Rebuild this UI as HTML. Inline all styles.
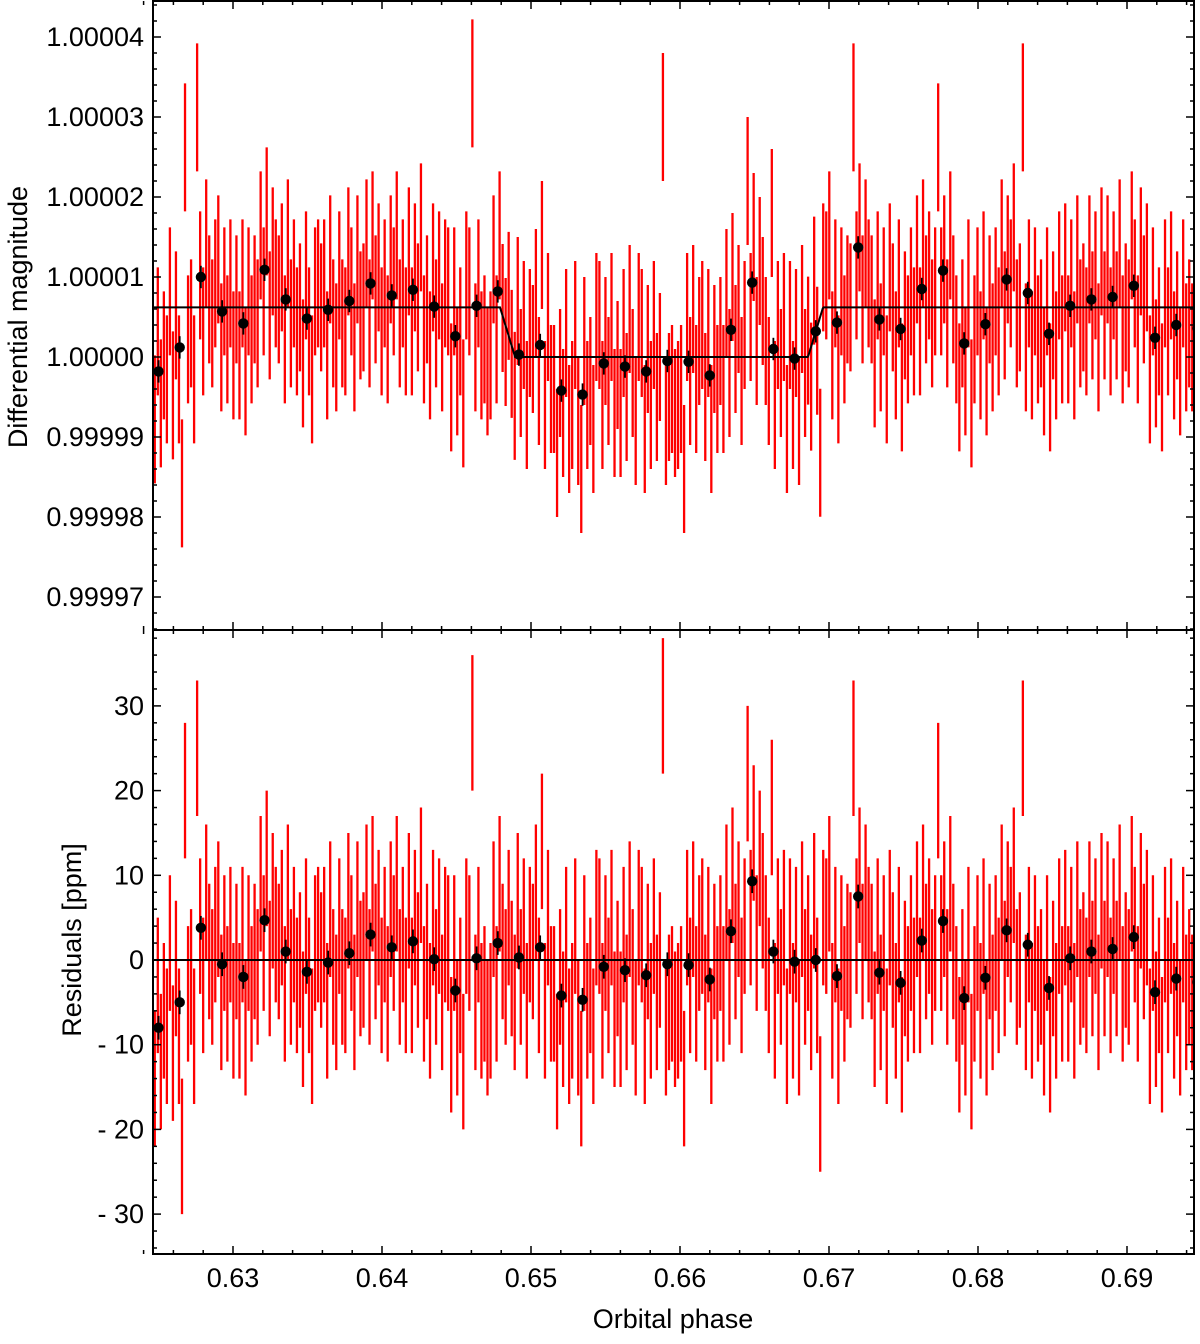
<!DOCTYPE html>
<html><head><meta charset="utf-8"><style>
body{margin:0;background:#fff}
svg text{font-family:"Liberation Sans",Arial,sans-serif;fill:#000}
</style></head><body>
<svg id="c" width="1200" height="1339" viewBox="0 0 1200 1339" xmlns="http://www.w3.org/2000/svg"></svg>
<script>
const residuals=[
-14,-3,-12,-6,-9,2,-11,
-1,-9,-22,20,-4,-2,-9,
25,4,-3,8,1,-2,3,
6,-5,2,-4,3,-6,1,
-6,3,-8,2,-4,1,-2,
9,2,12,-1,7,3,1,
5,-4,8,-2,3,-3,0,
-7,4,-3,-9,2,3,0,
3,-6,6,-2,-5,4,-2,
-3,7,2,-5,6,-1,0,
8,-2,9,1,5,-3,3,
-4,6,2,9,-2,3,-3,
7,-3,5,0,10,-4,1,
-6,5,-2,4,-5,3,2,
-10,2,-8,-3,-12,4,2,
28,-5,3,-6,-4,-8,-6,
6,-4,9,1,-2,5,-1,
-5,7,-2,4,-6,3,1,
8,-3,14,-6,5,-4,-4,
-12,-2,-7,3,-9,-6,4,
-8,-14,2,-6,-3,-9,5,
4,-6,2,-3,5,-7,-1,
-7,3,-5,6,-2,-8,5,
3,-9,1,-6,4,-5,0,
30,-8,-5,-4,-7,-6,-4,
-14,5,-3,6,-4,2,4,
-5,3,-9,1,-4,2,-4,
8,-2,10,1,6,-3,4,
22,5,15,2,12,7,2,
-3,18,-6,4,-2,5,-9,
4,-6,3,-8,6,-2,2,
-5,7,-3,-17,5,4,9,
-6,3,-9,2,-4,1,0,
25,4,10,1,8,3,1,
-7,4,-5,2,-9,5,0,
-6,3,-10,-1,-4,2,-3,
6,-3,8,1,4,-2,2,
20,2,6,-2,9,1,-4,
-10,-2,-8,3,-12,-4,2,
-6,4,-8,1,-5,2,-3,
8,-1,6,3,10,-2,0,
25,-5,3,-6,2,-4,-2,
-8,2,-10,-1,-6,4,-4,
5,-4,3,-6,6,-2,0,
-3,6,-1,4,-5,7,-1,
6,-3,4,-1,8,-4,0,
-2,9,3,-4,7,1,5,
-9,2,-7,-3,-10,3,-3,
4,-6,-1,-8,3,-5,-2,
-5,-1,-3];
const rawStart=0.62475, rawStep=0.000203, rawErr=8;
const binResiduals=[-8,-5,3.8,-0.5,-2,4.7,1,-1.4,-0.3,0.8,3,1.5,2.2,0.1,-3.6,0.2,2,0.3,1.5,-4.2,-4.7,-0.8,-1.2,-1.8,-0.5,-0.6,-2.3,3.4,9.3,1,-0.2,0,-1.9,7.5,-1.5,-2.7,2.3,4.6,-4.5,-2.1,3.5,1.8,-3.3,0.2,1,1.3,2.7,-3.8,-2.2,-2.6];
const binStart=0.6250, binStep=0.001423, binErr=1.4;
const baseline=6.2, depth=6.2, t1=0.64792,t2=0.64893,t3=0.66859,t4=0.66960;
const xTicks=[0.63,0.64,0.65,0.66,0.67,0.68,0.69];
const topTicks=[40,30,20,10,0,-10,-20,-30];
const topTickLabels=["1.00004","1.00003","1.00002","1.00001","1.00000","0.99999","0.99998","0.99997"];
const botTicks=[30,20,10,0,-10,-20,-30];
const botTickLabels=["30","20","10","0","- 10","- 20","- 30"];

const L=153,R=1194,T=1,M=630,B=1254;
const xs=p=>233+(p-0.63)*14900;
const yTop=v=>357-v*8.0;
const yBot=v=>960-v*8.47;
function model(p){
  if(p<t1||p>t4) return baseline;
  if(p<t2) return baseline-depth*(p-t1)/(t2-t1);
  if(p<=t3) return baseline-depth;
  return baseline-depth+depth*(p-t3)/(t4-t3);
}
const svg=document.getElementById('c');
const NS='http://www.w3.org/2000/svg';
function mk(tag,attrs,parent){const e=document.createElementNS(NS,tag);for(const k in attrs)e.setAttribute(k,attrs[k]);(parent||svg).appendChild(e);return e;}
const defs=mk('defs',{});
const cp1=mk('clipPath',{id:'cTop'},defs);mk('rect',{x:L,y:T,width:R-L,height:M-T},cp1);
const cp2=mk('clipPath',{id:'cBot'},defs);mk('rect',{x:L,y:M,width:R-L,height:B-M},cp2);
const gTop=mk('g',{'clip-path':'url(#cTop)'});


const gBot=mk('g',{'clip-path':'url(#cBot)'});


residuals.forEach((r,i)=>{
  const p=rawStart+i*rawStep;const x=xs(p);
  const m=model(p);
  const a=mk('line',{x1:x,x2:x,y1:yTop(m+r-rawErr),y2:yTop(m+r+rawErr),stroke:'#f00','stroke-width':2.3},gTop);
  
  
  const b=mk('line',{x1:x,x2:x,y1:yBot(r-rawErr),y2:yBot(r+rawErr),stroke:'#f00','stroke-width':2.3},gBot);
  
  
});
let d='';for(let i=0;i<=1200;i++){const p=0.6240+i*0.0000595;d+=(i?'L':'M')+xs(p).toFixed(1)+','+yTop(model(p)).toFixed(1);}
const ml=mk('path',{d:d,fill:'none',stroke:'#000','stroke-width':2},gTop);


const zl=mk('line',{x1:L,x2:R,y1:yBot(0),y2:yBot(0),stroke:'#000','stroke-width':2},gBot);


binResiduals.forEach((r,i)=>{
  const p=binStart+i*binStep;const x=xs(p);const m=model(p);
  [[gTop,v=>yTop(m+v)],[gBot,yBot]].forEach(([g,f],k)=>{
    const l=mk('line',{x1:x,x2:x,y1:f(r-binErr),y2:f(r+binErr),stroke:'#000','stroke-width':1.8},g);
    
    
    const c=mk('circle',{cx:x,cy:f(r),r:5.2,fill:'#000'},g);
    
    
  });
});
[[T,M],[M,B]].forEach(([a,b],k)=>{
  const f=mk('rect',{x:L,y:a,width:R-L,height:b-a,fill:'none',stroke:'#000','stroke-width':2});
  
  
  for(let p=0.624;p<=0.6945;p+=0.002){const x=xs(p);const major=Math.abs(p*100-Math.round(p*100))<1e-6;const len=major?8:4;
    mk('line',{x1:x,x2:x,y1:a,y2:a+len,stroke:'#000','stroke-width':1.5});
    mk('line',{x1:x,x2:x,y1:b,y2:b-len,stroke:'#000','stroke-width':1.5});}
});
const yTicksMinor=(f,lo,hi,a,b)=>{for(let v=lo;v<=hi;v+=2){const y=f(v);if(y<a||y>b)continue;const len=v%10===0?8:4;
  mk('line',{x1:L,x2:L+len,y1:y,y2:y,stroke:'#000','stroke-width':1.5});mk('line',{x1:R,x2:R-len,y1:y,y2:y,stroke:'#000','stroke-width':1.5});}};
yTicksMinor(yTop,-34,44,T,M);yTicksMinor(yBot,-34,38,M,B);
topTicks.forEach((v,i)=>{const t=mk('text',{x:144,y:yTop(v)+9,'text-anchor':'end','font-size':27});t.textContent=topTickLabels[i];
  });
botTicks.forEach((v,i)=>{const t=mk('text',{x:144,y:yBot(v)+9,'text-anchor':'end','font-size':27});t.textContent=botTickLabels[i];
  });
xTicks.forEach(v=>{const t=mk('text',{x:xs(v),y:1287,'text-anchor':'middle','font-size':27});t.textContent=v.toFixed(2);
  });
let t=mk('text',{x:673,y:1328,'text-anchor':'middle','font-size':27});t.textContent='Orbital phase';

t=mk('text',{x:0,y:0,'text-anchor':'middle','font-size':27,transform:'translate(27,317) rotate(-90)'});t.textContent='Differential magnitude';

t=mk('text',{x:0,y:0,'text-anchor':'middle','font-size':27,transform:'translate(81,940) rotate(-90)'});t.textContent='Residuals [ppm]';

</script>
</body></html>
